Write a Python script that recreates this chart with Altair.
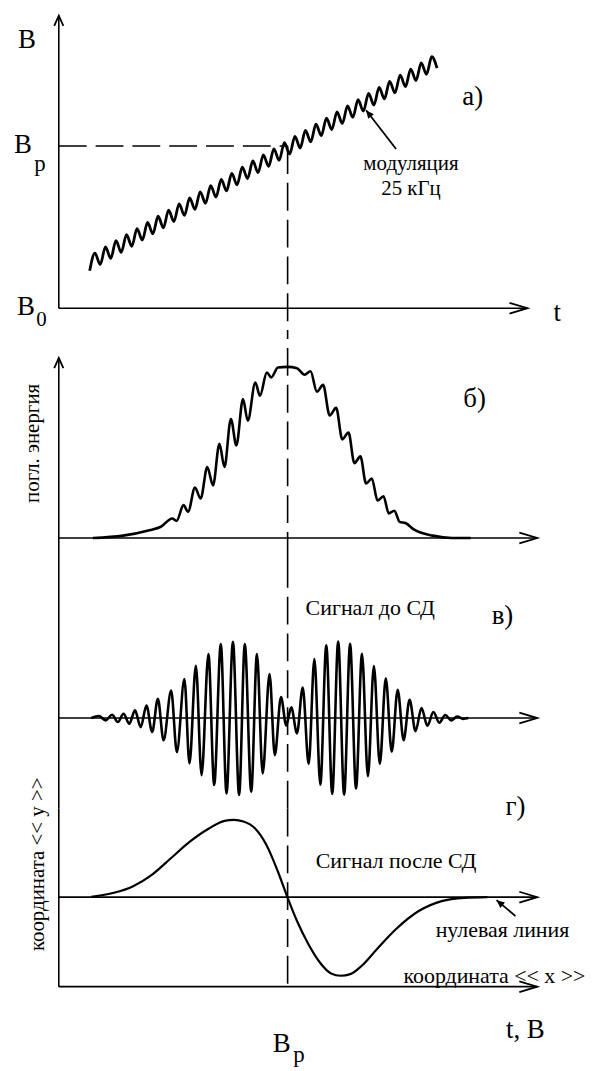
import altair as alt
import pandas as pd

FONT = "Liberation Serif"
W = 578
XDOM = [-22.2, 229.1]          # horizontal field / time axis (B_p = 100)

# ---------------- panel a): field sweep with 25 kHz modulation ----------------
A_YDOM = [-14.11, 183.44]
a_wave_x = [13.5, 15.8, 18.1, 20.4, 22.7, 25.0, 27.3, 29.6, 31.9, 34.2, 36.5, 38.8,
            41.1, 43.4, 45.7, 48.0, 50.3, 52.6, 54.9, 57.2, 59.5, 61.8, 64.1, 66.4,
            68.7, 71.0, 73.3, 75.6, 77.9, 80.2, 82.5, 84.8, 87.1, 89.4, 91.7, 94.0,
            96.3, 98.6, 100.9, 103.2, 105.5, 107.8, 110.1, 112.4, 114.7, 117.0, 119.3,
            121.6, 123.9, 126.2, 128.5, 130.8, 133.1, 135.4, 137.7, 140.0, 142.3, 144.6,
            146.9, 149.2, 151.5, 153.8, 156.1, 158.4, 160.7, 163.0, 165.3]
a_wave_y = [23.1, 34.0, 26.9, 37.8, 30.7, 41.6, 34.4, 45.3, 38.2, 49.1, 42.0, 52.9,
            45.8, 56.7, 49.6, 60.5, 53.4, 64.3, 57.2, 68.0, 60.9, 71.8, 64.7, 75.6,
            68.5, 79.4, 72.3, 83.2, 76.1, 87.0, 79.9, 90.8, 83.6, 94.5, 87.4, 98.3,
            91.2, 102.1, 95.0, 105.9, 98.8, 109.7, 102.6, 113.5, 106.4, 117.2, 110.1,
            121.0, 113.9, 124.8, 117.7, 128.6, 121.5, 132.4, 125.3, 136.2, 129.1, 139.9,
            132.8, 143.7, 136.6, 147.5, 140.4, 151.3, 144.2, 155.1, 148.0]

# ---------------- panel б): absorbed energy ----------------
B_YDOM = [-12.87, 121.64]
b_x = [14.9, 28.1, 39.6, 44.6, 49.6, 51.5, 54.5, 56.5, 59.5, 62.0, 64.9, 67.4, 70.2,
       72.4, 75.2, 77.6, 80.5, 82.6, 85.9, 87.9, 90.9, 92.8, 95.8, 100.0, 104.1, 107.4,
       110.0, 112.8, 115.5, 118.4, 121.2, 123.9, 126.6, 129.2, 131.8, 134.3, 136.8,
       139.3, 141.9, 144.2, 146.6, 149.0, 151.5, 155.3, 163.5, 171.8, 180.0]
b_y = [0.0, 1.4, 4.6, 6.6, 11.5, 10.1, 19.3, 15.4, 29.6, 23.2, 41.7, 30.9, 55.4,
       41.7, 70.0, 54.4, 81.7, 69.0, 91.4, 83.6, 97.3, 94.4, 100.2, 100.6, 99.8, 96.0,
       98.0, 86.0, 90.0, 72.0, 76.5, 58.0, 62.0, 44.0, 48.0, 32.0, 35.0,
       22.0, 24.5, 14.5, 16.0, 9.5, 8.8, 4.9, 1.4, 0.0, 0.0]

# ---------------- panel в): signal before the synchronous detector ----------------
C_YDOM = [-118.18, 206.49]
c_x = [14.2, 17.5, 20.5, 23.3, 25.8, 28.3, 30.8, 33.3, 35.8, 38.3, 40.8, 43.3, 45.8,
       49.1, 51.6, 54.9, 57.1, 59.9, 62.4, 65.4, 67.9, 70.8, 73.3, 76.1, 78.8, 81.3,
       84.1, 86.6, 89.1, 92.1, 94.4, 97.1, 99.4, 101.6, 104.1, 106.6, 109.2, 111.7,
       114.3, 116.9, 119.5, 122.1, 124.7, 127.3, 129.9, 132.5, 135.1, 137.7, 140.3,
       142.9, 145.5, 148.1, 150.7, 153.3, 155.9, 158.5, 161.1, 163.7, 166.3, 168.9,
       171.5, 174.1, 176.7, 179.0]
c_y = [0.0, 2.6, -3.0, 4.3, -5.2, 5.6, -7.4, 10.0, -12.0, 16.5, -18.2, 25.1, -29.0,
       35.9, -44.2, 51.1, -59.3, 68.4, -74.5, 83.5, -87.4, 96.5, -98.3, 99.6, -100.4, 96.5,
       -96.1, 83.5, -72.3, 57.6, -48.5, 27.3, -9.5, 14.0, -20.0, 40.0, -60.0, 77.0,
       -87.0, 95.0, -99.0, 100.0, -100.0, 97.0, -92.0, 84.0, -76.0, 68.0, -60.0,
       52.0, -44.0, 37.0, -29.0, 24.0, -17.0, 13.0, -10.0, 8.0, -6.0, 4.0,
       -3.0, 2.0, -1.0, 0.0]

# ---------------- panel г): signal after the synchronous detector ----------------
D_YDOM = [-211.07, 114.54]
d_x = [14.2, 24.1, 32.5, 40.8, 49.1, 57.4, 65.8, 72.4, 76.6, 80.7, 85.7, 90.7, 95.7,
       99.9, 104.1, 109.1, 114.1, 119.0, 123.2, 127.4, 132.4, 139.0, 147.3, 157.3,
       167.3, 177.3, 187.3]
d_y = [0.5, 5.6, 14.2, 29.2, 50.6, 72.1, 89.2, 98.7, 100.0, 97.9, 89.2, 67.8, 33.5,
       0.0, -30.9, -60.9, -84.5, -98.7, -101.7, -99.6, -88.8, -67.4, -41.6, -18.0,
       -5.1, -0.9, 0.0]

B_RES = 100.0
ARROW_END = 209.1
RIGHT = "M-1,-0.3L0,0L-1,0.3"
UP = "M-0.45,1L0,0L0.45,1"
TIP = "M-0.45,1L0,0L0.45,1Z"


def enc(ydom):
    return dict(
        x=alt.X("x:Q", scale=alt.Scale(domain=XDOM, nice=False, zero=False), axis=None),
        y=alt.Y("y:Q", scale=alt.Scale(domain=ydom, nice=False, zero=False), axis=None),
    )


def segs(rows, ydom, width=1.6, dash=None):
    df = pd.DataFrame(rows, columns=["x", "y", "x2", "y2"])
    kw = dict(color="black", strokeWidth=width)
    if dash:
        kw["strokeDash"] = dash
    return alt.Chart(df).mark_rule(**kw).encode(x2="x2:Q", y2="y2:Q", **enc(ydom))


def heads(rows, ydom, shape, size, angle=0, filled=False):
    df = pd.DataFrame(rows, columns=["x", "y"])
    kw = dict(shape=shape, size=size, opacity=1, strokeWidth=1.8, color="black", filled=filled)
    if angle:
        kw["angle"] = angle
    return alt.Chart(df).mark_point(**kw).encode(**enc(ydom))


def curve(xv, yv, ydom, width=2.6):
    df = pd.DataFrame({"x": xv, "y": yv, "i": list(range(len(xv)))})
    return alt.Chart(df).mark_line(color="black", strokeWidth=width, interpolate="monotone").encode(
        order="i:Q", **enc(ydom))


def label(rows, ydom, size, angle=0):
    df = pd.DataFrame(rows, columns=["x", "y", "t"])
    kw = dict(font=FONT, fontSize=size, color="black", align="center", baseline="middle")
    if angle:
        kw["angle"] = angle
    return alt.Chart(df).mark_text(**kw).encode(text="t:N", **enc(ydom))


BIG = 27
SMALL = 22

# panel a
pa = alt.layer(
    segs([[0, 0, 0, 180.4], [0, 0, 204.8, 0]], A_YDOM),
    segs([[0, B_RES, B_RES, B_RES], [B_RES, B_RES, B_RES, A_YDOM[0]]], A_YDOM, dash=[28, 9]),
    heads([[0, 180.4]], A_YDOM, UP, 420),
    heads([[204.8, 0]], A_YDOM, RIGHT, 1300),
    curve(a_wave_x, a_wave_y, A_YDOM, width=2.8),
    segs([[147.4, 98.2, 134.3, 122.1]], A_YDOM, width=1.8),
    heads([[134.3, 122.1]], A_YDOM, TIP, 260, angle=322, filled=True),
    label([[-13.9, 165.6, "B"], [-15.7, 100.6, "B"], [-14.3, 0.6, "B"],
           [217.8, -3.1, "t"], [180.9, 130.1, "а)"]], A_YDOM, BIG),
    label([[-8.2, 89.0, "p"]], A_YDOM, 23),
    label([[-7.6, -7.0, "0"]], A_YDOM, 21),
    label([[153.9, 89.0, "модуляция"], [153.9, 73.6, "25 кГц"]], A_YDOM, 21),
).properties(width=W, height=322)

# panel б
pb = alt.layer(
    segs([[0, B_YDOM[0], 0, 105.8], [0, 0, ARROW_END, 0]], B_YDOM),
    segs([[B_RES, B_YDOM[0], B_RES, B_YDOM[1]]], B_YDOM, dash=[28, 9]),
    heads([[0, 105.8]], B_YDOM, UP, 420),
    heads([[ARROW_END, 0]], B_YDOM, RIGHT, 1300),
    curve(b_x, b_y, B_YDOM),
    label([[-11.3, 55.6, "погл. энергия"]], B_YDOM, 21, angle=270),
    label([[181.7, 81.9, "б)"]], B_YDOM, BIG),
).properties(width=W, height=230)

# panel в
pc = alt.layer(
    segs([[0, C_YDOM[0], 0, C_YDOM[1]], [0, 0, ARROW_END, 0]], C_YDOM),
    segs([[B_RES, C_YDOM[0], B_RES, C_YDOM[1]]], C_YDOM, dash=[28, 9]),
    heads([[ARROW_END, 0]], C_YDOM, RIGHT, 1300),
    curve(c_x, c_y, C_YDOM),
    label([[136.1, 144.2, "Сигнал до СД"]], C_YDOM, SMALL),
    label([[193.9, 133.8, "в)"], [199.6, -115.6, "г)"]], C_YDOM, BIG),
).properties(width=W, height=250)

# panel г
pd_ = alt.layer(
    segs([[0, D_YDOM[1], 0, -115.8], [0, 0, ARROW_END, 0], [0, -115.8, ARROW_END, -115.8]], D_YDOM),
    segs([[B_RES, D_YDOM[1], B_RES, -115.8]], D_YDOM, dash=[28, 9]),
    heads([[ARROW_END, 0], [ARROW_END, -115.8]], D_YDOM, RIGHT, 1300),
    curve(d_x, d_y, D_YDOM, width=2.2),
    segs([[199.6, -24.5, 191.3, -3.9]], D_YDOM, width=1.8),
    heads([[191.3, -3.9]], D_YDOM, TIP, 260, angle=310, filled=True),
    label([[147.4, 46.3, "Сигнал после СД"], [193.9, -42.5, "нулевая линия"],
           [190.4, -101.7, "координата << x >>"]], D_YDOM, SMALL),
    label([[-9.1, 42.5, "координата << y >>"]], D_YDOM, 21, angle=270),
    label([[203.9, -172.3, "t, B"], [97.4, -190.0, "B"]], D_YDOM, BIG),
    label([[105.0, -204.0, "p"]], D_YDOM, 23),
).properties(width=W, height=253)

chart = alt.vconcat(pa, pb, pc, pd_, spacing=0, bounds="flush").properties(
    padding=0, background="white"
).configure_view(stroke=None)

chart.save("out.html", embed_options={"renderer": "svg", "actions": False})
